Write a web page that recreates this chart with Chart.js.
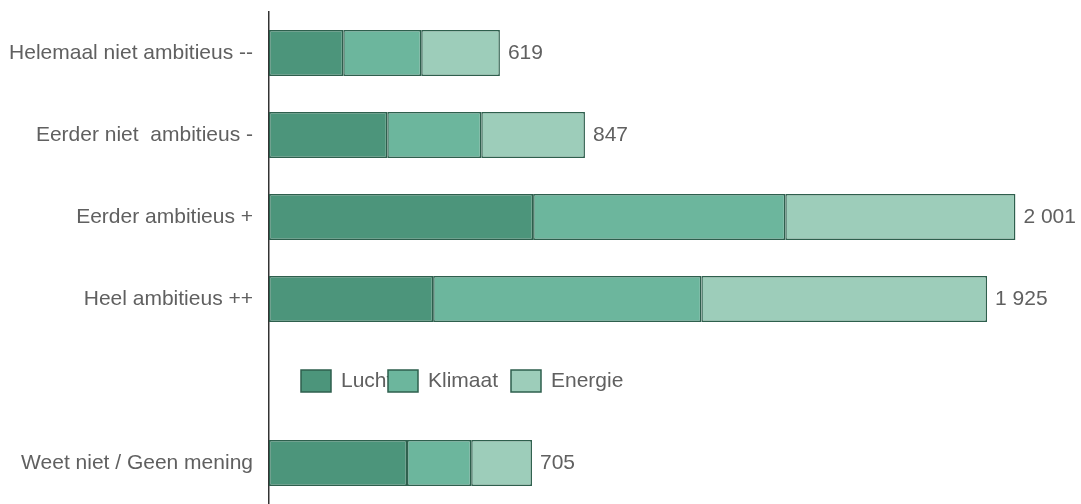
<!DOCTYPE html>
<html>
<head>
<meta charset="utf-8">
<script src="https://cdn.jsdelivr.net/npm/chart.js@4/dist/chart.umd.min.js"></script>
<style>
  html, body { margin: 0; padding: 0; background: #ffffff; overflow: hidden; }
  canvas { display: block; }
</style>
</head>
<body>
<canvas id="chart" width="1081" height="504" style="width:1081px;height:504px"></canvas>
<script>
// ---- data ----
const categories = [
    'Helemaal niet ambitieus --',
    'Eerder niet  ambitieus -',
    'Eerder ambitieus +',
    'Heel ambitieus ++',
    '',
    'Weet niet / Geen mening'
];
const seriesNames = ['Lucht', 'Klimaat', 'Energie'];
const lucht   = [199, 317, 708, 440, null, 370];
const klimaat = [209, 252, 676, 719, null, 172];
const energie = [211, 278, 617, 766, null, 163];
const totals  = [619, 847, 2001, 1925, null, 705];

const colors = ['#4c957b', '#6cb69d', '#9dcdba'];
const borderCol = '#2e5f4d';
const textCol = '#606060';
const FONT = '"Liberation Sans", Arial, sans-serif';
const FSIZE = 21;

function fmt(n) {
    return String(n).replace(/\B(?=(\d{3})+(?!\d))/g, ' ');
}

// totals at the end of each bar
const totalLabels = {
    id: 'totalLabels',
    afterDatasetsDraw(chart) {
        const ctx = chart.ctx;
        const meta = chart.getDatasetMeta(chart.data.datasets.length - 1);
        ctx.save();
        ctx.font = FSIZE + 'px ' + FONT;
        ctx.fillStyle = textCol;
        ctx.textBaseline = 'middle';
        ctx.textAlign = 'left';
        totals.forEach((t, i) => {
            if (t == null) return;
            const bar = meta.data[i];
            ctx.fillText(fmt(t), bar.x + 8, bar.y);
        });
        ctx.restore();
    }
};

// legend drawn inside the empty category row
const innerLegend = {
    id: 'innerLegend',
    afterDraw(chart) {
        const ctx = chart.ctx;
        const y = chart.scales.y.getPixelForValue(4);
        const left = chart.chartArea.left;
        const offsets = [32, 119, 242];
        ctx.save();
        ctx.font = FSIZE + 'px ' + FONT;
        ctx.textBaseline = 'middle';
        ctx.textAlign = 'left';
        seriesNames.forEach((name, i) => {
            const x = left + offsets[i];
            ctx.fillStyle = textCol;
            ctx.fillText(name, x + 40, y);
            ctx.fillStyle = colors[i];
            ctx.fillRect(x, y - 11, 30, 22);
            ctx.strokeStyle = borderCol;
            ctx.lineWidth = 1.5;
            ctx.strokeRect(x, y - 11, 30, 22);
        });
        ctx.restore();
    }
};

new Chart(document.getElementById('chart'), {
    type: 'bar',
    data: {
        labels: categories,
        datasets: [lucht, klimaat, energie].map((d, i) => ({
            label: seriesNames[i],
            data: d,
            backgroundColor: colors[i],
            borderColor: borderCol,
            borderWidth: 1.5,
            borderSkipped: false,
            barPercentage: 0.56,
            categoryPercentage: 1
        }))
    },
    options: {
        indexAxis: 'y',
        responsive: false,
        animation: false,
        layout: { padding: { top: 12, right: 10, bottom: 0, left: 0 } },
        plugins: {
            legend: { display: false },
            tooltip: { enabled: false }
        },
        scales: {
            x: {
                stacked: true,
                min: 0,
                max: 2150,
                display: false
            },
            y: {
                stacked: true,
                afterFit(scale) {
                    scale.width = 269;
                    scale.paddingTop = 0;
                    scale.paddingBottom = 0;
                },
                grid: { display: false, drawTicks: false },
                border: { display: true, color: '#333333', width: 1.5 },
                ticks: {
                    color: textCol,
                    padding: 16,
                    font: { family: FONT, size: FSIZE }
                }
            }
        }
    },
    plugins: [totalLabels, innerLegend]
});
</script>
</body>
</html>
